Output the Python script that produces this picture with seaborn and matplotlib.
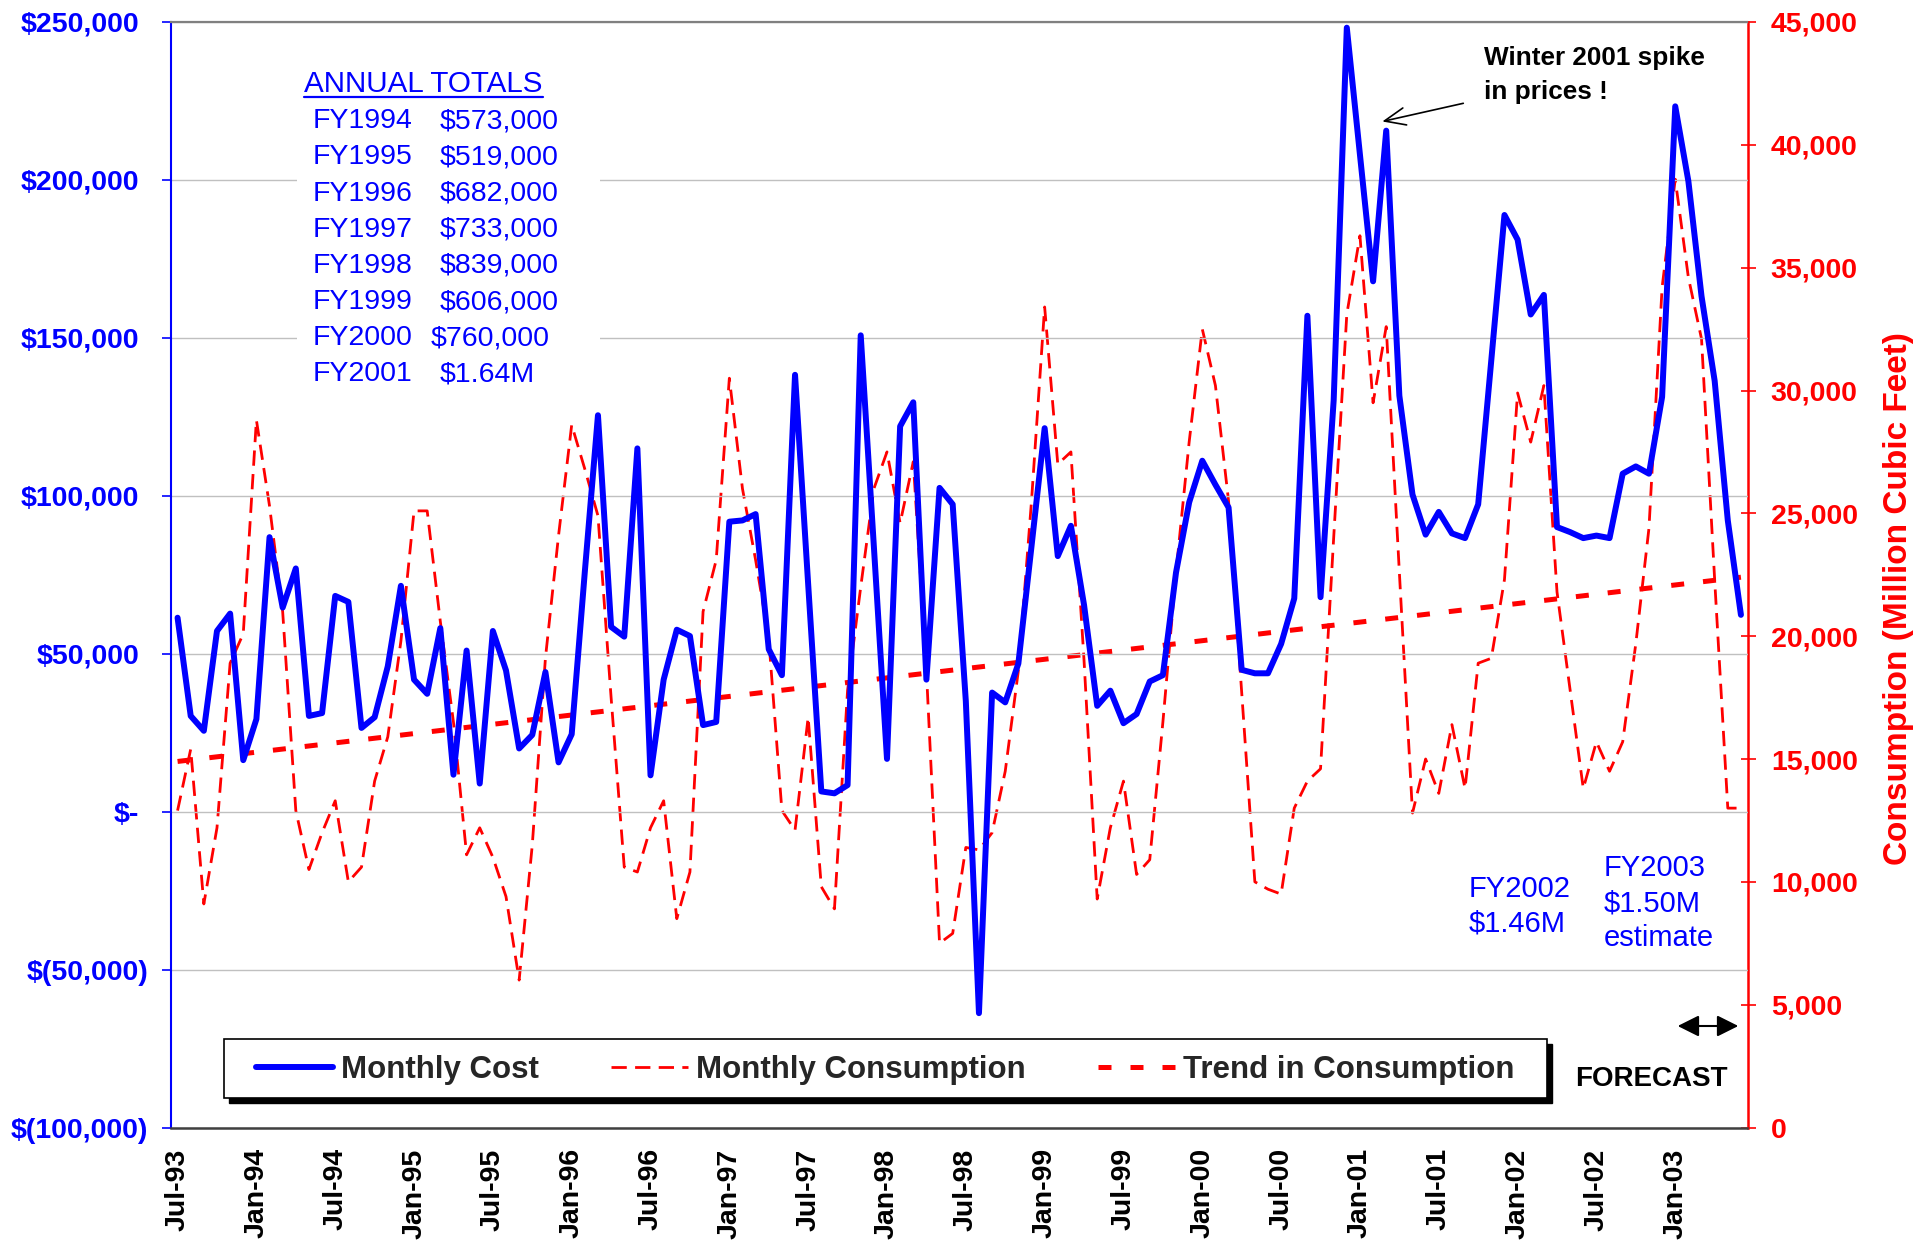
import numpy as np
import pandas as pd
import matplotlib
matplotlib.use("Agg")
import matplotlib.pyplot as plt
from matplotlib.lines import Line2D
from matplotlib.patches import Rectangle
from matplotlib.transforms import ScaledTranslation
import seaborn as sns

# ---------------- data ----------------
# Monthly cost, Jul-93 .. Jun-03 (US$)
cost = [
    61400, 30300, 25600, 57200, 62700, 16300, 29300, 86900, 64600, 77000, 30300, 31200,
    68300, 66400, 26500, 29900, 46000, 71500, 41800, 37300, 58100, 11700, 51000, 8900,
    57200, 44700, 20000, 24300, 44200, 15600, 24500, 76000, 125500, 58500, 55400, 115000,
    11500, 41800, 57600, 55600, 27400, 28400, 91800, 92200, 94200, 51400, 43200, 138300,
    72000, 6400, 5800, 8400, 150800, 84000, 16700, 122000, 129600, 41800, 102500, 97300,
    35000, -63800, 37700, 34600, 46900, 84000, 121400, 80900, 90500, 65400, 33500, 38300,
    28000, 30900, 41200, 43200, 75700, 97900, 111100, 103500, 96300, 44900, 43800, 43800,
    53100, 67500, 157000, 67900, 130200, 248200, 208000, 167900, 215600, 131700, 100400, 87700,
    94900, 88100, 86600, 97300, 143000, 188900, 181100, 157400, 163600, 90100, 88500, 86600,
    87400, 86600, 107000, 109300, 107000, 131300, 223300, 199600, 163200, 136400, 92200, 62300,
]
# Monthly consumption (million cubic feet)
consumption = [
    12900, 15400, 9100, 12200, 18900, 20100, 28800, 25300, 21000, 12900, 10500, 12000,
    13300, 10000, 10600, 14100, 15900, 19800, 25100, 25100, 20600, 16500, 11100, 12200,
    11000, 9400, 6000, 11500, 19100, 24100, 28600, 26800, 24900, 17500, 10600, 10400,
    12200, 13300, 8500, 10400, 21000, 23100, 30500, 26000, 23100, 19900, 12900, 12100,
    16700, 9800, 8900, 17800, 22000, 26000, 27500, 24600, 27100, 18600, 7500, 7900,
    11400, 11300, 12000, 14500, 18600, 25500, 33400, 27000, 27500, 19000, 9300, 12200,
    14100, 10300, 10900, 16500, 22600, 27900, 32500, 30200, 25500, 17700, 10000, 9700,
    9500, 13000, 14100, 14600, 24000, 33100, 36300, 29500, 32600, 22600, 12800, 15000,
    13600, 16400, 13800, 18900, 19100, 22300, 29900, 27900, 30200, 21800, 17800, 13800,
    15700, 14500, 15700, 19700, 24400, 34200, 38600, 34600, 32100, 22300, 13000, 13000,
]
# Linear trend in consumption: value at first and last month
trend_values = [14900, 22400]

x_tick_labels = ['Jul-93', 'Jan-94', 'Jul-94', 'Jan-95', 'Jul-95', 'Jan-96', 'Jul-96',
                 'Jan-97', 'Jul-97', 'Jan-98', 'Jul-98', 'Jan-99', 'Jul-99', 'Jan-00',
                 'Jul-00', 'Jan-01', 'Jul-01', 'Jan-02', 'Jul-02', 'Jan-03']
cost_ticks = [-100000, -50000, 0, 50000, 100000, 150000, 200000, 250000]
cost_tick_labels = ['$(100,000)', '$(50,000)', '$-', '$50,000', '$100,000',
                    '$150,000', '$200,000', '$250,000']
cons_ticks = [0, 5000, 10000, 15000, 20000, 25000, 30000, 35000, 40000, 45000]
cons_tick_labels = ['0', '5,000', '10,000', '15,000', '20,000', '25,000',
                    '30,000', '35,000', '40,000', '45,000']
annual_years = ['FY1994', 'FY1995', 'FY1996', 'FY1997', 'FY1998', 'FY1999', 'FY2000', 'FY2001']
annual_totals = ['$573,000', '$519,000', '$682,000', '$733,000', '$839,000',
                 '$606,000', '$760,000', '$1.64M']
legend_labels = ['Monthly Cost', 'Monthly Consumption', 'Trend in Consumption']

# ---------------- style ----------------
sns.set_style('white')
plt.rcParams['font.family'] = ['Liberation Sans', 'DejaVu Sans']

BLUE = '#0000ff'
RED = '#ff0000'
W, H = 1921, 1244


def fx(x):
    return x / W


def fy(y_top):
    return 1 - y_top / H


fig = plt.figure(figsize=(W / 100, H / 100), dpi=100)
ax = fig.add_axes([fx(171), fy(1127.5), fx(1747.5) - fx(171), fy(22) - fy(1127.5)])
ax2 = ax.twinx()
ax.set_zorder(ax2.get_zorder() + 1)
ax.patch.set_visible(False)
ax2.patch.set_facecolor('white')

months = np.arange(len(cost))
df = pd.DataFrame({'month': months, 'cost': cost, 'consumption': consumption})
trend_df = pd.DataFrame({'month': [months[0], months[-1]], 'trend': trend_values})

cons_ls = (0, (5.5, 3.0))
trend_ls = (0, (2.6, 3.8))

sns.lineplot(data=df, x='month', y='consumption', ax=ax2, color=RED, linewidth=2.0,
             linestyle=cons_ls, errorbar=None, zorder=2)
sns.lineplot(data=trend_df, x='month', y='trend', ax=ax2, color=RED, linewidth=3.6,
             linestyle=trend_ls, errorbar=None, zorder=3)
sns.lineplot(data=df, x='month', y='cost', ax=ax, color=BLUE, linewidth=4.3,
             errorbar=None, zorder=3)

for a in (ax, ax2):
    a.set_xlabel('')
    a.set_ylabel('')

# ---------------- axes ----------------
ax.set_xlim(-0.5, len(cost) - 0.5)
ax.set_ylim(-100000, 250000)
ax2.set_ylim(0, 45000)

# x ticks: marks at category boundaries, labels at category centres
ax.set_xticks(np.arange(-0.5, len(cost), 6))
ax.set_xticks(np.arange(0, len(cost) - 5, 6), labels=x_tick_labels, minor=True,
              rotation=90, fontweight='bold', fontsize=20.5)
ax.tick_params(axis='x', which='major', direction='out', length=6.5, width=1.2,
               color='#333333', labelbottom=False)
ax.tick_params(axis='x', which='minor', length=0, pad=15, labelcolor='black')

ax.set_yticks(cost_ticks, labels=cost_tick_labels, fontweight='bold', fontsize=20.5)
ax.tick_params(axis='y', direction='out', length=6.5, width=1.2, color=BLUE,
               labelcolor=BLUE, pad=10)
# accounting style alignment: labels without ")" sit a little to the left
for lab, txt in zip(ax.get_yticklabels(), cost_tick_labels):
    if not txt.endswith(')'):
        lab.set_transform(lab.get_transform() + ScaledTranslation(-9 / 100, 0, fig.dpi_scale_trans))

ax2.set_yticks(cons_ticks, labels=cons_tick_labels, fontweight='bold', fontsize=20.5)
ax2.tick_params(axis='y', direction='inout', length=10.8, width=1.2, color=RED,
                labelcolor=RED, pad=11.4)

ax.yaxis.grid(True, color='#c0c0c0', linewidth=1.0)
ax.xaxis.grid(False)
ax.set_axisbelow(True)

ax.spines['left'].set_color(BLUE)
ax.spines['left'].set_linewidth(1.5)
ax.spines['top'].set_color('#808080')
ax.spines['top'].set_linewidth(1.6)
ax.spines['bottom'].set_color('#404040')
ax.spines['bottom'].set_linewidth(1.8)
ax.spines['right'].set_visible(False)
for s in ('left', 'top', 'bottom'):
    ax2.spines[s].set_visible(False)
ax2.spines['right'].set_color(RED)
ax2.spines['right'].set_linewidth(1.8)

# ---------------- legend with black drop shadow ----------------
lx0, ly0, lx1, ly1 = 224, 1039, 1546.7, 1097.7
shadow = Rectangle((fx(lx0 + 5), fy(ly1 + 5)), fx(lx1) - fx(lx0), fy(ly0) - fy(ly1),
                   transform=fig.transFigure, facecolor='black', edgecolor='black',
                   clip_on=False, zorder=8)
frame = Rectangle((fx(lx0), fy(ly1)), fx(lx1) - fx(lx0), fy(ly0) - fy(ly1),
                  transform=fig.transFigure, facecolor='white', edgecolor='black',
                  linewidth=1.2, clip_on=False, zorder=9)
ax.add_patch(shadow)
ax.add_patch(frame)
handles = [Line2D([], [], color=BLUE, lw=4.3),
           Line2D([], [], color=RED, lw=2.0, linestyle=cons_ls),
           Line2D([], [], color=RED, lw=3.6, linestyle=trend_ls)]
leg = ax.legend(handles, legend_labels, loc='center',
                bbox_to_anchor=(fx((lx0 + lx1) / 2), fy((ly0 + ly1) / 2 + 2)),
                bbox_transform=fig.transFigure, ncol=3, frameon=False,
                prop={'weight': 'bold', 'size': 22.5}, handlelength=2.46,
                handletextpad=0.26, columnspacing=2.3, borderpad=0)
leg.set_zorder(10)

# ---------------- annual totals block ----------------
box = Rectangle((fx(297), fy(395)), fx(600) - fx(297), fy(55) - fy(395),
                transform=fig.transFigure, facecolor='white', edgecolor='none',
                clip_on=False, zorder=1)
ax.add_patch(box)
title = fig.text(fx(304), fy(91.7), 'ANNUAL TOTALS', color=BLUE, fontsize=21.3,
                 va='baseline')
fig.canvas.draw()
tb = title.get_window_extent()
fig.add_artist(Line2D([tb.x0 / W, tb.x1 / W], [fy(96.5), fy(96.5)], color=BLUE, lw=1.6))
for k, (yr, tot) in enumerate(zip(annual_years, annual_totals)):
    base = 128.3 + 36.15 * k
    fig.text(fx(312.5), fy(base), yr, color=BLUE, fontsize=20.5, va='baseline')
    vx = 431 if tot == '$760,000' else 439.7
    fig.text(fx(vx), fy(base), tot, color=BLUE, fontsize=20.5, va='baseline')

# ---------------- other annotations ----------------
fig.text(fx(1469), fy(897), 'FY2002', color=BLUE, fontsize=21, va='baseline')
fig.text(fx(1469), fy(932), '$1.46M', color=BLUE, fontsize=21, va='baseline')
fig.text(fx(1604), fy(876), 'FY2003', color=BLUE, fontsize=21, va='baseline')
fig.text(fx(1604), fy(912), '$1.50M', color=BLUE, fontsize=21, va='baseline')
fig.text(fx(1604), fy(946), 'estimate', color=BLUE, fontsize=21, va='baseline')

fig.text(fx(1484), fy(65.5), 'Winter 2001 spike', color='black', fontsize=18.8,
         fontweight='bold', va='baseline')
fig.text(fx(1484), fy(99), 'in prices !', color='black', fontsize=18.8,
         fontweight='bold', va='baseline')
ax.annotate('', xy=(91.7, 218500), xycoords='data',
            xytext=(1463.3, H - 103.3), textcoords='figure pixels',
            arrowprops=dict(arrowstyle='->,head_length=0.6,head_width=0.25',
                            mutation_scale=25, color='black', lw=1.2,
                            shrinkA=0, shrinkB=0), annotation_clip=False)

fig.text(fx(1575), fy(1086), 'FORECAST', color='black', fontsize=20,
         fontweight='bold', va='baseline')
ax.annotate('', xy=(1738.3, H - 1026), xycoords='figure pixels',
            xytext=(1677.7, H - 1026), textcoords='figure pixels',
            arrowprops=dict(arrowstyle='<|-|>,head_length=1.0,head_width=0.5',
                            mutation_scale=13, color='black', lw=1.5,
                            shrinkA=0, shrinkB=0), annotation_clip=False)

fig.text(fx(1899), fy(599), 'Consumption (Million Cubic Feet)', color=RED,
         fontsize=24, fontweight='bold', rotation=90, ha='center', va='center')

fig.savefig('out.png', dpi=100, facecolor='white')
